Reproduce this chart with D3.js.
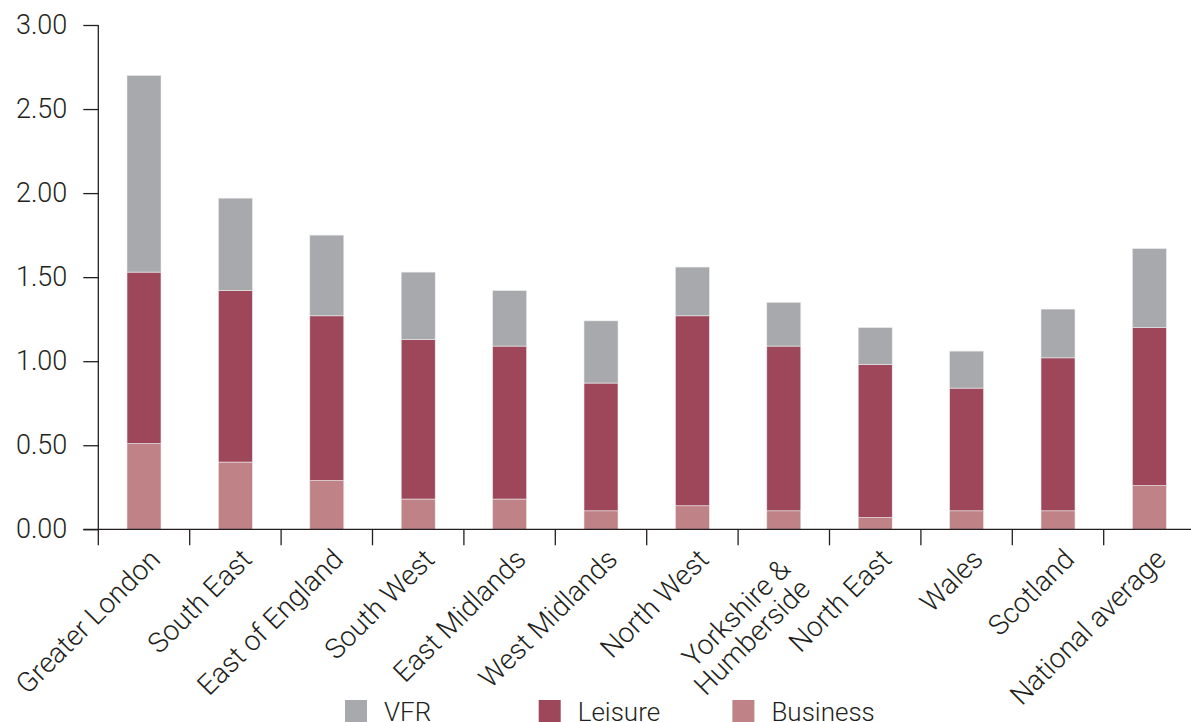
<!DOCTYPE html>
<html><head><meta charset="utf-8">
<script src="https://cdn.jsdelivr.net/npm/d3@7"></script>
<style>
body{margin:0;background:#fff}
svg{display:block}
text{font-family:Roboto,"Liberation Sans",Arial,sans-serif;font-weight:300;fill:#231f20}
</style>
</head><body>
<svg id="c" width="1191" height="722"></svg>
<script>
const regions = ["Greater London","South East","East of England","South West","East Midlands","West Midlands","North West","Yorkshire & Humberside","North East","Wales","Scotland","National average"];
const regionLabelLines = [["Greater London"],["South East"],["East of England"],["South West"],["East Midlands"],["West Midlands"],["North West"],["Yorkshire &","Humberside"],["North East"],["Wales"],["Scotland"],["National average"]];
const business = [0.51,0.40,0.29,0.18,0.18,0.11,0.14,0.11,0.07,0.11,0.11,0.26];
const leisure  = [1.02,1.02,0.98,0.95,0.91,0.76,1.13,0.98,0.91,0.73,0.91,0.94];
const vfr      = [1.17,0.55,0.48,0.40,0.33,0.37,0.29,0.26,0.22,0.22,0.29,0.47];
const seriesKeys = ["Business","Leisure","VFR"];
const legendOrder = ["VFR","Leisure","Business"];
const yTicks = [0,0.5,1,1.5,2,2.5,3];

const colors = {VFR:"#a8a9ac", Leisure:"#9e475b", Business:"#bf8287"};

const rows = regions.map((r,i)=>({region:r, Business:business[i], Leisure:leisure[i], VFR:vfr[i]}));

const svg = d3.select("#c");
const x0 = 98.3, band = 91.4, yBase = 529.3, yTop = 25;
const x = d3.scaleBand().domain(regions).range([x0, x0 + band*regions.length]).padding(0);
const y = d3.scaleLinear().domain([0,3]).range([yBase, yTop]);
const barW = 34;

const stacked = d3.stack().keys(seriesKeys)(rows);

svg.append("g").selectAll("g").data(stacked).join("g")
  .attr("fill", d=>colors[d.key])
  .selectAll("rect").data(d=>d).join("rect")
  .attr("x", d=>x(d.data.region) + x.bandwidth()/2 - barW/2)
  .attr("width", barW)
  .attr("y", d=>y(d[1]))
  .attr("height", d=>y(d[0]) - y(d[1]))
  .attr("stroke","#ececec").attr("stroke-width",0.6);

// Y axis
const yAxis = d3.axisLeft(y).tickValues(yTicks).tickFormat(d3.format(".2f")).tickSize(15).tickPadding(16);
const gy = svg.append("g").attr("transform",`translate(${x0},0)`).call(yAxis);
gy.select(".domain").remove();
gy.selectAll(".tick line").attr("stroke","#231f20").attr("stroke-width",1.3);
gy.selectAll(".tick text").attr("font-size",27).attr("fill","#231f20")
  .attr("font-family","Roboto,'Liberation Sans',Arial,sans-serif").attr("font-weight",300);
svg.append("line").attr("x1",x0).attr("x2",x0).attr("y1",y(3)).attr("y2",yBase+16)
  .attr("stroke","#231f20").attr("stroke-width",1.3);

// X axis line + boundary ticks
svg.append("line").attr("x1",x0-15).attr("x2",1191).attr("y1",yBase).attr("y2",yBase)
  .attr("stroke","#231f20").attr("stroke-width",1.3);
svg.append("g").selectAll("line").data(regions.slice(1)).join("line")
  .attr("x1",d=>x(d)).attr("x2",d=>x(d)).attr("y1",yBase).attr("y2",yBase+16)
  .attr("stroke","#231f20").attr("stroke-width",1.3);

// X labels
const lab = svg.append("g").selectAll("text").data(regions).join("text")
  .attr("transform",d=>`translate(${x(d)+x.bandwidth()/2+18},${561}) rotate(-45)`)
  .attr("text-anchor","end").attr("font-size",28);
lab.each(function(d,i){
  const lines = regionLabelLines[i];
  const t = d3.select(this);
  if(lines.length===1){ t.append("tspan").attr("x",0).attr("y",0).text(lines[0]); }
  else {
    lines.forEach((ln,j)=>t.append("tspan").attr("x",-14).attr("y",j*28).text(ln));
  }
});

// Legend
const leg = svg.append("g").selectAll("g").data(legendOrder).join("g")
  .attr("transform",(d,i)=>`translate(${345+i*193.7},700)`);
leg.append("rect").attr("width",22).attr("height",22).attr("fill",d=>colors[d]);
leg.append("text").attr("x",39).attr("y",21).attr("font-size",26).text(d=>d);
</script>
</body></html>
